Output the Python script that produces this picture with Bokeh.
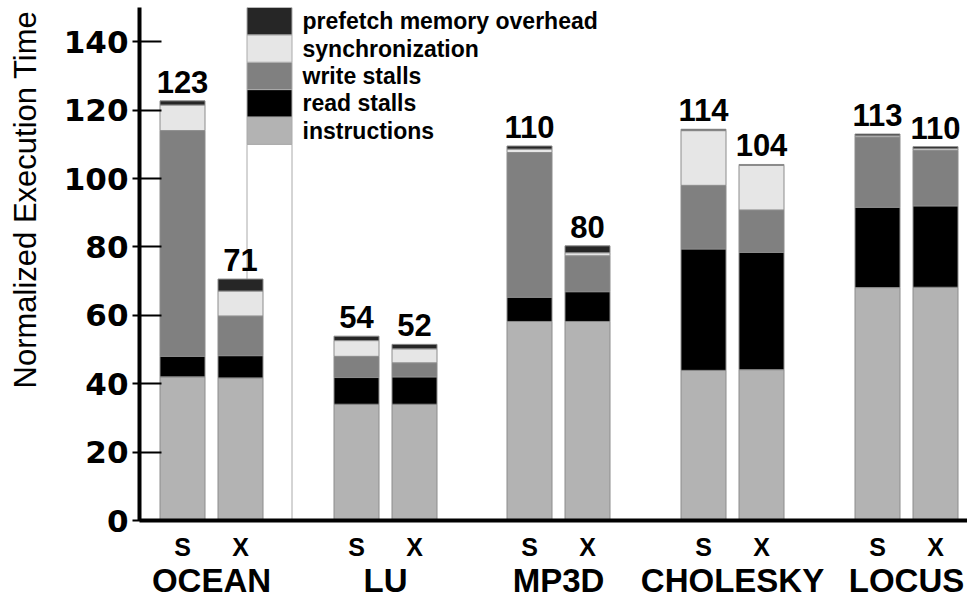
import math
from bokeh.plotting import figure
from bokeh.layouts import row
from bokeh.models import Range1d, FixedTicker, LinearAxis, ColumnDataSource
from bokeh.core.properties import value
from bokeh.embed import file_html
from bokeh.resources import INLINE

# ---------------- data ----------------
groups = ["OCEAN", "LU", "MP3D", "CHOLESKY", "LOCUS"]
variants = ["S", "X"]
# bar order: OCEAN S, OCEAN X, LU S, LU X, MP3D S, MP3D X, CHOLESKY S, CHOLESKY X, LOCUS S, LOCUS X
instructions    = [42.0, 41.7, 34.0, 34.0, 58.2, 58.2, 43.9, 44.1, 68.1, 68.2]
read_stalls     = [6.0, 6.5, 7.8, 8.0, 7.1, 8.7, 35.5, 34.3, 23.5, 23.8]
write_stalls    = [66.0, 11.6, 6.2, 4.1, 42.3, 10.5, 18.6, 12.4, 20.5, 16.2]
synchronization = [7.5, 7.3, 4.6, 4.1, 1.0, 0.9, 16.0, 13.0, 0.4, 0.5]
prefetch        = [1.2, 3.5, 1.3, 1.3, 0.9, 2.0, 0.4, 0.3, 0.5, 0.6]
total_labels    = [123, 71, 54, 52, 110, 80, 114, 104, 113, 110]

series_keys  = ["instructions", "read_stalls", "write_stalls", "synchronization", "prefetch"]
series_names = ["instructions", "read stalls", "write stalls", "synchronization",
                "prefetch memory overhead"]
colors = ["#b3b3b3", "#000000", "#808080", "#e6e6e6", "#262626"]
y_ticks = [0, 20, 40, 60, 80, 100, 120, 140]
y_title = "Normalized Execution Time"

# legend drawn as a stacked column
legend_base = 110
legend_step = 8

# ---------------- layout ----------------
group_spacing = 173.7
s_offset, x_offset = 43, 101
bar_width = 45
legend_x = 130

s_pos = [int(round(s_offset + group_spacing * g)) for g in range(len(groups))]
x_pos = [int(round(x_offset + group_spacing * g)) for g in range(len(groups))]
positions = []
for a, b in zip(s_pos, x_pos):
    positions += [a, b]
centers = [(a + b) / 2 for a, b in zip(s_pos, x_pos)]

FONT = "Liberation Sans"
TICKFONT = "DejaVu Sans"
LEFT_W = 54

# ---------- strip holding the vertical axis title ----------
lab = figure(width=LEFT_W, height=601, x_range=Range1d(0, LEFT_W), y_range=Range1d(0, 601),
             output_backend="svg", toolbar_location=None, min_border=0)
lab.axis.visible = False
lab.grid.visible = False
lab.outline_line_color = None
lab.text(x=[25], y=[376], text=[y_title], angle=math.pi / 2,
         text_align="center", text_baseline="middle",
         text_font=value(FONT), text_font_size="31px", text_color="black")

# ---------- main chart ----------
p = figure(width=967 - LEFT_W, height=601, x_range=Range1d(0, 828), y_range=Range1d(0, 150),
           output_backend="svg", toolbar_location=None,
           min_border_left=139 - LEFT_W, min_border_right=0, min_border_top=7,
           min_border_bottom=78)
p.outline_line_color = None
p.grid.visible = False
p.background_fill_color = "white"

# legend column (white base drawn first)
p.vbar(x=[legend_x], bottom=[0], top=[legend_base], width=bar_width,
       fill_color="white", line_color="#aaaaaa", line_width=1)
lb = [legend_base + i * legend_step for i in range(len(series_names))]
lt = [b + legend_step for b in lb]
p.vbar(x=[legend_x] * len(series_names), bottom=lb, top=lt, width=bar_width,
       fill_color=colors, line_color="#aaaaaa", line_width=1)
p.text(x=[legend_x + 33] * len(series_names), y=[b + legend_step / 2 for b in lb],
       text=series_names, text_align="left", text_baseline="middle",
       text_font=value(FONT), text_font_style="bold", text_font_size="23px", text_color="black")

# bars
data = dict(x=positions, instructions=instructions, read_stalls=read_stalls,
            write_stalls=write_stalls, synchronization=synchronization, prefetch=prefetch)
src = ColumnDataSource(data)
p.vbar_stack(series_keys, x="x", width=bar_width, source=src,
             fill_color=colors, line_color="#8c8c8c", line_width=1)

totals = [sum(v) for v in zip(instructions, read_stalls, write_stalls, synchronization, prefetch)]
p.text(x=positions, y=totals, text=[str(t) for t in total_labels],
       text_align="center", text_baseline="bottom", y_offset=-8,
       text_font=value(FONT), text_font_style="bold", text_font_size="31px", text_color="black")

# y axis
ya = p.yaxis[0]
ya.ticker = FixedTicker(ticks=y_ticks)
ya.axis_line_width = 4
ya.axis_line_color = "black"
ya.major_tick_in = 22
ya.major_tick_out = 7
ya.major_tick_line_width = 2
ya.minor_tick_line_color = None
ya.major_label_standoff = 4
ya.major_label_text_font = TICKFONT
ya.major_label_text_font_style = "bold"
ya.major_label_text_font_size = "31px"
ya.major_label_text_color = "black"

# x axis: S / X
xa = p.xaxis[0]
xa.ticker = FixedTicker(ticks=positions)
xa.major_label_overrides = {pos: variants[i % 2] for i, pos in enumerate(positions)}
xa.axis_line_width = 4
xa.axis_line_color = "black"
xa.major_tick_line_color = None
xa.minor_tick_line_color = None
xa.major_tick_in = 0
xa.major_tick_out = 0
xa.major_label_standoff = 12
xa.major_label_text_font = FONT
xa.major_label_text_font_style = "bold"
xa.major_label_text_font_size = "25px"
xa.major_label_text_color = "black"

# x axis: group names
ga = LinearAxis(ticker=FixedTicker(ticks=centers),
                major_label_overrides={c: g for c, g in zip(centers, groups)})
ga.axis_line_color = None
ga.major_tick_line_color = None
ga.minor_tick_line_color = None
ga.major_tick_in = 0
ga.major_tick_out = 0
ga.major_label_standoff = -2
ga.major_label_text_font = FONT
ga.major_label_text_font_style = "bold"
ga.major_label_text_font_size = "33px"
ga.major_label_text_color = "black"
p.add_layout(ga, "below")

layout = row(lab, p, spacing=0)
open("out.html", "w").write(file_html(layout, INLINE))
